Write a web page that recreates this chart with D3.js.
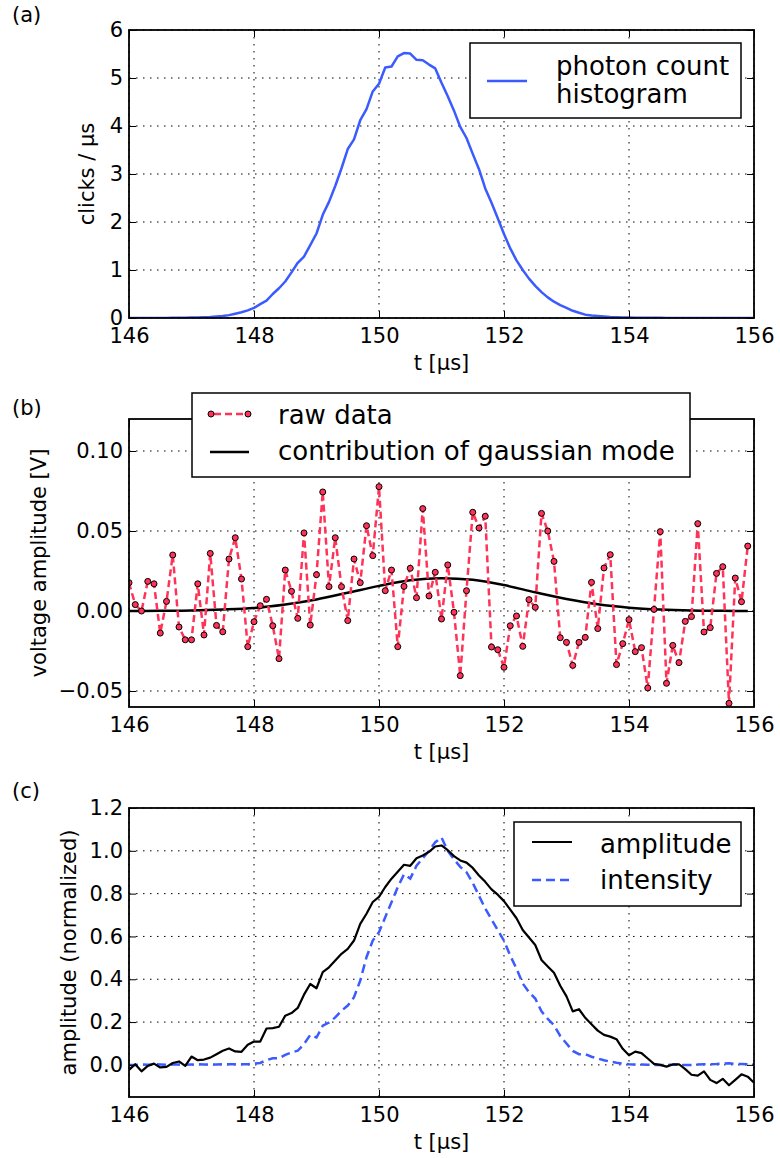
<!DOCTYPE html>
<html>
<head>
<meta charset="utf-8">
<script src="https://cdn.jsdelivr.net/npm/d3@7"></script>
<style>
body { margin: 0; background: #fff; }
text { font-family: "DejaVu Sans", sans-serif; fill: #000; }
</style>
</head>
<body>
<script>
// time grid of the recorded traces (0.1 us steps)
var tHist = d3.range(0, 101).map(function(i){ return 146 + i * 0.1; });
var tRaw = d3.range(0, 100).map(function(i){ return 146 + i * 0.1; });

// (a) photon count histogram, clicks / us
var histCounts = [
	0, 0, 0, 0, 0, 0.002, 0.002, 0.003, 0.004, 0.005,
	0.008, 0.01, 0.015, 0.02, 0.03, 0.04, 0.06, 0.09, 0.12, 0.16,
	0.21, 0.29, 0.36, 0.5, 0.62, 0.76, 0.95, 1.15, 1.28, 1.52,
	1.76, 2.15, 2.42, 2.75, 3.12, 3.52, 3.72, 4.12, 4.35, 4.72,
	4.88, 5.22, 5.24, 5.45, 5.52, 5.51, 5.38, 5.37, 5.28, 5.2,
	4.9, 4.62, 4.32, 3.98, 3.75, 3.42, 3.1, 2.7, 2.4, 2.08,
	1.75, 1.45, 1.2, 1.0, 0.82, 0.67, 0.54, 0.43, 0.34, 0.27,
	0.21, 0.15, 0.11, 0.07, 0.05, 0.04, 0.03, 0.02, 0.015, 0.01,
	0.008, 0.006, 0.005, 0.004, 0.003, 0.003, 0.002, 0.002, 0.002, 0.001,
	0.001, 0.001, 0.001, 0.001, 0, 0, 0, 0, 0, 0, 0
];

// (b) raw voltage samples [V]
var rawVolts = [
	0.0177, 0.004, 0.0, 0.0185, 0.017, -0.0138, 0.006, 0.035, -0.010, -0.018,
	-0.018, 0.017, -0.015, 0.036, -0.009, -0.013, 0.0325, 0.0458, 0.020, -0.0223,
	-0.0067, 0.0033, 0.0073, -0.0092, -0.0298, 0.0256, 0.0123, -0.0046, 0.0488, -0.0088,
	0.0227, 0.0744, 0.0152, 0.0458, 0.0152, -0.006, 0.0325, 0.0177, 0.0533, 0.0346,
	0.0777, 0.0127, 0.0256, -0.0223, 0.0154, 0.0267, 0.0083, 0.064, 0.0094, 0.0242,
	-0.005, 0.0288, -0.0008, -0.0404, 0.0127, 0.0617, 0.0519, 0.0592, -0.0225, -0.0242,
	-0.0352, -0.0092, -0.0031, -0.0221, 0.0071, 0.0023, 0.061, 0.05, 0.031, -0.0167,
	-0.0196, -0.034, -0.0196, -0.0165, 0.0179, -0.011, 0.0269, 0.0352, -0.0335, -0.0204,
	-0.0054, -0.0254, -0.0229, -0.0481, 0.001, 0.0496, -0.0452, -0.0215, -0.0323, -0.0065,
	-0.0035, 0.0546, -0.0131, -0.0104, 0.0235, 0.0277, -0.0577, 0.0206, 0.0058, 0.0406
];

// (b) contribution of gaussian mode
var modeT = [146, 146.5, 147, 147.5, 148, 148.5, 149, 149.5, 150, 150.5, 151,
	151.5, 152, 152.5, 153, 153.5, 154, 154.5, 155, 155.5, 155.9];
var modeVolts = [0.0, 0.0001, 0.0003, 0.0009, 0.0019, 0.0041, 0.0072, 0.0114, 0.0157, 0.0192, 0.0205,
	0.0195, 0.0162, 0.0117, 0.0075, 0.0042, 0.0021, 0.0009, 0.0003, 0.0001, 0.0];

// (c) normalized amplitude and intensity
var ampNorm = [
	-0.023, 0.003, -0.03, -0.005, 0.006, -0.012, -0.009, 0.009, 0.016, -0.005,
	0.039, 0.022, 0.025, 0.034, 0.05, 0.066, 0.077, 0.063, 0.061, 0.094,
	0.109, 0.109, 0.17, 0.172, 0.178, 0.23, 0.242, 0.266, 0.328, 0.378,
	0.358, 0.433, 0.456, 0.488, 0.519, 0.542, 0.581, 0.659, 0.706, 0.761,
	0.785, 0.831, 0.87, 0.902, 0.935, 0.93, 0.965, 0.978, 0.995, 1.02,
	1.025, 1.003, 0.975, 0.955, 0.945, 0.92, 0.885, 0.855, 0.82, 0.795,
	0.765, 0.725, 0.685, 0.63, 0.595, 0.56, 0.49, 0.46, 0.43, 0.37,
	0.32, 0.25, 0.26, 0.22, 0.19, 0.16, 0.14, 0.132, 0.12, 0.075,
	0.045, 0.062, 0.055, 0.03, 0.005, 0.0, -0.008, 0.002, 0.003, -0.02,
	-0.046, -0.05, -0.03, -0.07, -0.085, -0.065, -0.095, -0.07, -0.044, -0.055, -0.083
];
var intNorm = [
	0, 0, 0.002, 0.001, 0.003, 0.002, 0.001, 0.002, 0.002, 0.001,
	0.002, 0.003, 0.002, 0.002, 0.002, 0.003, 0.003, 0.003, 0.003, 0.003,
	0.006, 0.009, 0.022, 0.031, 0.031, 0.047, 0.058, 0.066, 0.097, 0.14,
	0.128, 0.183, 0.198, 0.222, 0.253, 0.277, 0.316, 0.394, 0.503, 0.581,
	0.62, 0.69, 0.76, 0.83, 0.89, 0.87, 0.93, 0.965, 1.0, 1.04,
	1.062, 1.0, 0.96, 0.925, 0.9, 0.85, 0.79, 0.73, 0.68, 0.63,
	0.58, 0.51, 0.45, 0.38, 0.34, 0.31, 0.25, 0.215, 0.185, 0.135,
	0.1, 0.065, 0.05, 0.05, 0.038, 0.03, 0.022, 0.015, 0.01, 0.006,
	0.003, 0.002, 0.002, 0.001, 0.0, 0.0, 0.0, 0.001, 0.0, 0.0,
	0.0, 0.002, 0.003, 0.003, 0.004, 0.006, 0.008, 0.005, 0.004, 0.003, 0.003
];

// ticks
var xTicks = [146, 148, 150, 152, 154, 156];
var yTicksA = [0, 1, 2, 3, 4, 5, 6];
var yTicksB = [-0.05, 0.0, 0.05, 0.10];
var yTicksC = [0.0, 0.2, 0.4, 0.6, 0.8, 1.0, 1.2];

var BLUE = "#3b5bff", RED = "#ff3358";

var svg = d3.select("body").append("svg").attr("width", 780).attr("height", 1158);
svg.append("rect").attr("width", 780).attr("height", 1158).attr("fill", "#fff");

var left = 129, right = 754;
var x = d3.scaleLinear().domain([146, 156]).range([left, right]);

function makePanel(id, top, bottom, yDomain, yTicks, yFmt, yLabel, yLabelX, tag, tagY)
{
	var y = d3.scaleLinear().domain(yDomain).range([bottom, top]);
	var g = svg.append("g");

	g.append("clipPath").attr("id", "clip" + id)
		.append("rect").attr("x", left).attr("y", top)
		.attr("width", right - left).attr("height", bottom - top);

	// dotted grid
	g.selectAll(".gx").data(xTicks).enter().append("line")
		.attr("x1", function(d){ return x(d); }).attr("x2", function(d){ return x(d); })
		.attr("y1", top).attr("y2", bottom)
		.attr("stroke", "#000").attr("stroke-width", 1).attr("stroke-dasharray", "1.5,5.5");
	g.selectAll(".gy").data(yTicks).enter().append("line")
		.attr("y1", function(d){ return y(d); }).attr("y2", function(d){ return y(d); })
		.attr("x1", left).attr("x2", right)
		.attr("stroke", "#000").attr("stroke-width", 1).attr("stroke-dasharray", "1.5,5.5");

	var plot = g.append("g").attr("clip-path", "url(#clip" + id + ")");

	// axes: ticks pointing inwards on all four sides
	var ax = g.append("g").attr("transform", "translate(0," + bottom + ")")
		.call(d3.axisBottom(x).tickValues(xTicks).tickSizeInner(-7).tickSizeOuter(0).tickPadding(10));
	g.append("g").attr("transform", "translate(0," + top + ")")
		.call(d3.axisTop(x).tickValues(xTicks).tickSizeInner(-7).tickSizeOuter(0).tickFormat(""));
	var ay = g.append("g").attr("transform", "translate(" + left + ",0)")
		.call(d3.axisLeft(y).tickValues(yTicks).tickSizeInner(-7).tickSizeOuter(0).tickPadding(6).tickFormat(yFmt));
	g.append("g").attr("transform", "translate(" + right + ",0)")
		.call(d3.axisRight(y).tickValues(yTicks).tickSizeInner(-7).tickSizeOuter(0).tickFormat(""));
	g.selectAll(".domain").remove();
	g.selectAll(".tick line").attr("stroke", "#000").attr("stroke-width", 1);
	g.selectAll(".tick text").attr("font-size", 21).attr("font-family", "DejaVu Sans").attr("fill", "#000");

	g.append("text").attr("x", (left + right) / 2).attr("y", bottom + 52)
		.attr("text-anchor", "middle").attr("font-size", 21).text("t [μs]");
	g.append("text").attr("transform", "translate(" + yLabelX + "," + ((top + bottom) / 2) + ") rotate(-90)")
		.attr("text-anchor", "middle").attr("font-size", 21).text(yLabel);
	g.append("text").attr("x", 12).attr("y", tagY).attr("font-size", 21).text(tag);

	return { g: g, plot: plot, y: y, top: top, bottom: bottom };
}

function frame(p)
{
	p.g.append("rect").attr("x", left).attr("y", p.top)
		.attr("width", right - left).attr("height", p.bottom - p.top)
		.attr("fill", "none").attr("stroke", "#000").attr("stroke-width", 1.8);
}

function legendBox(g, x0, y0, x1, y1)
{
	g.append("rect").attr("x", x0).attr("y", y0).attr("width", x1 - x0).attr("height", y1 - y0)
		.attr("fill", "#fff").attr("stroke", "#000").attr("stroke-width", 1.5);
}

// ---------- (a) ----------
var pa = makePanel("a", 30, 318, [0, 6], yTicksA, d3.format("d"), "clicks / µs", 94, "(a)", 22);
pa.plot.append("path")
	.datum(histCounts)
	.attr("d", d3.line().x(function(d, i){ return x(tHist[i]); }).y(function(d){ return pa.y(d); }))
	.attr("fill", "none").attr("stroke", BLUE).attr("stroke-width", 2.5).attr("stroke-linejoin", "round");
frame(pa);
legendBox(pa.g, 470, 43, 741, 118);
pa.g.append("line").attr("x1", 487).attr("x2", 527).attr("y1", 81).attr("y2", 81)
	.attr("stroke", BLUE).attr("stroke-width", 2.5);
pa.g.append("text").attr("x", 556).attr("y", 75).attr("font-size", 26).text("photon count");
pa.g.append("text").attr("x", 556).attr("y", 103).attr("font-size", 26).text("histogram");

// ---------- (b) ----------
var pb = makePanel("b", 419, 707, [-0.06, 0.12], yTicksB, d3.format(".2f"), "voltage amplitude [V]", 46, "(b)", 415);
pb.plot.append("path")
	.datum(modeVolts)
	.attr("d", d3.line().curve(d3.curveMonotoneX)
		.x(function(d, i){ return x(modeT[i]); }).y(function(d){ return pb.y(d); }))
	.attr("fill", "none").attr("stroke", "#000").attr("stroke-width", 2.5);
pb.plot.append("path")
	.datum(rawVolts)
	.attr("d", d3.line().x(function(d, i){ return x(tRaw[i]); }).y(function(d){ return pb.y(d); }))
	.attr("fill", "none").attr("stroke", RED).attr("stroke-width", 2.5).attr("stroke-dasharray", "7,4");
pb.plot.selectAll("circle")
	.data(rawVolts)
	.enter()
	.append("circle")
	.attr("cx", function(d, i){ return x(tRaw[i]); })
	.attr("cy", function(d){ return pb.y(d); })
	.attr("r", 3)
	.attr("fill", RED).attr("stroke", "#000").attr("stroke-width", 1);
frame(pb);
legendBox(pb.g, 192, 393, 690, 477);
pb.g.append("line").attr("x1", 211).attr("x2", 248).attr("y1", 414).attr("y2", 414)
	.attr("stroke", RED).attr("stroke-width", 2.5).attr("stroke-dasharray", "7,4").attr("stroke-dashoffset", -3);
pb.g.selectAll(".lm").data([211, 248]).enter().append("circle")
	.attr("cx", function(d){ return d; }).attr("cy", 414).attr("r", 3)
	.attr("fill", RED).attr("stroke", "#000").attr("stroke-width", 1);
pb.g.append("line").attr("x1", 210).attr("x2", 249).attr("y1", 452).attr("y2", 452)
	.attr("stroke", "#000").attr("stroke-width", 2.5);
pb.g.append("text").attr("x", 278).attr("y", 424).attr("font-size", 26).text("raw data");
pb.g.append("text").attr("x", 278).attr("y", 460).attr("font-size", 26).text("contribution of gaussian mode");

// ---------- (c) ----------
var pc = makePanel("c", 808, 1097, [-0.15, 1.2], yTicksC, d3.format(".1f"), "amplitude (normalized)", 76, "(c)", 798);
pc.plot.append("path")
	.datum(intNorm)
	.attr("d", d3.line().x(function(d, i){ return x(tHist[i]); }).y(function(d){ return pc.y(d); }))
	.attr("fill", "none").attr("stroke", BLUE).attr("stroke-width", 2.5).attr("stroke-dasharray", "9,5");
pc.plot.append("path")
	.datum(ampNorm)
	.attr("d", d3.line().x(function(d, i){ return x(tHist[i]); }).y(function(d){ return pc.y(d); }))
	.attr("fill", "none").attr("stroke", "#000").attr("stroke-width", 2.2).attr("stroke-linejoin", "round");
frame(pc);
legendBox(pc.g, 514, 822, 741, 906);
pc.g.append("line").attr("x1", 532).attr("x2", 572).attr("y1", 842).attr("y2", 842)
	.attr("stroke", "#000").attr("stroke-width", 2.2);
pc.g.append("line").attr("x1", 532).attr("x2", 572).attr("y1", 880).attr("y2", 880)
	.attr("stroke", BLUE).attr("stroke-width", 2.5).attr("stroke-dasharray", "9,5");
pc.g.append("text").attr("x", 600).attr("y", 853).attr("font-size", 26).text("amplitude");
pc.g.append("text").attr("x", 600).attr("y", 889).attr("font-size", 26).text("intensity");
</script>
</body>
</html>
